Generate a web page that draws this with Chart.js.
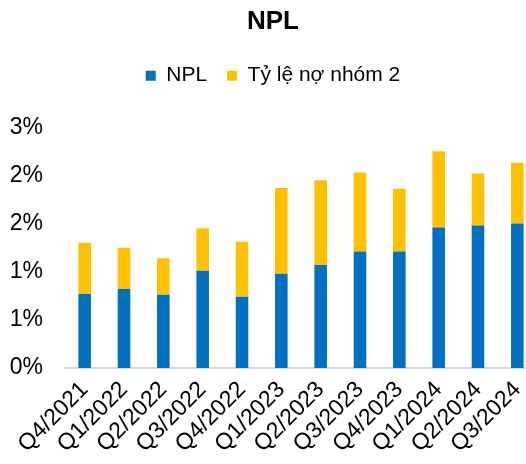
<!DOCTYPE html>
<html>
<head>
<meta charset="utf-8">
<script src="https://cdn.jsdelivr.net/npm/chart.js@4"></script>
<style>
  html, body { margin: 0; padding: 0; background: #fff; overflow: hidden; }
  #wrap { position: absolute; left: 0; top: 0; width: 556px; height: 464px; }
</style>
</head>
<body>
<div id="wrap"><canvas id="nplChart" width="556" height="464"></canvas></div>
<script>
// quarters on the x axis
const quarters = ['Q4/2021', 'Q1/2022', 'Q2/2022', 'Q3/2022', 'Q4/2022', 'Q1/2023',
    'Q2/2023', 'Q3/2023', 'Q4/2023', 'Q1/2024', 'Q2/2024', 'Q3/2024'];

// values in percent
const nplValues = [0.77, 0.82, 0.76, 1.01, 0.74, 0.98, 1.07, 1.21, 1.21, 1.46, 1.48, 1.50];
const group2Values = [0.53, 0.43, 0.38, 0.44, 0.57, 0.89, 0.88, 0.82, 0.65, 0.79, 0.54, 0.63];

const fontFamily = '"Liberation Sans", Arial, sans-serif';

// extra space under the legend
const legendGap = {
    id: 'legendGap',
    beforeInit(chart) {
        const origFit = chart.legend.fit;
        chart.legend.fit = function () {
            origFit.bind(chart.legend)();
            this.height += 31;
        };
    }
};

const data = {
    labels: quarters,
    datasets: [{
        label: 'NPL',
        data: nplValues,
        backgroundColor: '#0070C0',
        categoryPercentage: 1,
        barPercentage: 0.32
    }, {
        label: 'Tỷ lệ nợ nhóm 2',
        data: group2Values,
        backgroundColor: '#FFC000',
        categoryPercentage: 1,
        barPercentage: 0.32
    }]
};

const config = {
    type: 'bar',
    data: data,
    plugins: [legendGap],
    options: {
        responsive: false,
        animation: false,
        layout: {
            padding: { left: 9, right: 19, top: 6, bottom: 6 }
        },
        plugins: {
            title: {
                display: true,
                text: 'NPL',
                color: '#000',
                font: { family: fontFamily, size: 26, weight: 'bold' },
                padding: { top: 0, bottom: 8 }
            },
            legend: {
                display: true,
                labels: {
                    color: '#000',
                    font: { family: fontFamily, size: 21 },
                    boxWidth: 10,
                    boxHeight: 10,
                    padding: 20
                }
            },
            tooltip: { enabled: false }
        },
        scales: {
            x: {
                stacked: true,
                grid: { display: false },
                border: { display: true, color: '#D9D9D9', width: 2 },
                ticks: {
                    color: '#000',
                    font: { family: fontFamily, size: 23 },
                    minRotation: 45,
                    maxRotation: 45,
                    autoSkip: false,
                    padding: 0
                },
                afterFit(scale) {
                    // let the first rotated label hang over the y axis
                    scale.paddingLeft = 0;
                    scale.paddingRight = 0;
                }
            },
            y: {
                stacked: true,
                min: 0,
                max: 2.5,
                grid: { display: false },
                border: { display: false },
                ticks: {
                    stepSize: 0.5,
                    color: '#000',
                    font: { family: fontFamily, size: 23 },
                    padding: 14,
                    callback: function (value) {
                        return Math.round(value) + '%';
                    }
                },
                afterFit(scale) {
                    scale.width = 56;
                }
            }
        }
    }
};

// Render the chart
const nplChart = new Chart(document.getElementById('nplChart'), config);
</script>
</body>
</html>
